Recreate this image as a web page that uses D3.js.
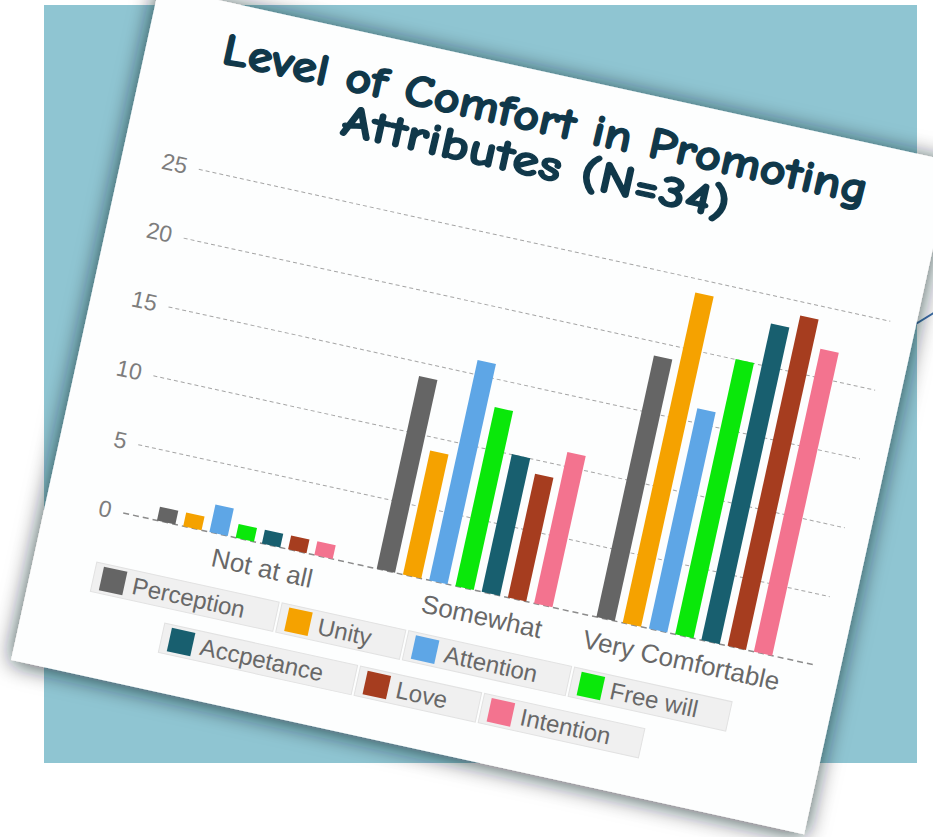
<!DOCTYPE html>
<html>
<head>
<meta charset="utf-8">
<script src="https://cdn.jsdelivr.net/npm/d3@7"></script>
<style>
  html, body { margin: 0; padding: 0; background: #ffffff; }
  svg { display: block; }
</style>
</head>
<body>
<svg id="chart" width="933" height="837"></svg>
<script>
// ---- data ----
const categories = ["Not at all", "Somewhat", "Very Comfortable"];
const seriesNames = ["Perception", "Unity", "Attention", "Free will", "Accpetance", "Love", "Intention"];
const perception = [1, 14, 19];
const unity      = [1, 9, 24];
const attention  = [2, 16, 16];
const freeWill   = [1, 13, 20];
const accpetance = [1, 10, 23];
const love       = [1, 9, 24];
const intention  = [1, 11, 22];
const seriesColors = ["#656565", "#f5a200", "#5ea6e6", "#0ae80a", "#185f6f", "#a63d1f", "#f3738f"];
const yTicks = [0, 5, 10, 15, 20, 25];
const legendRows = [["Perception", "Unity", "Attention", "Free will"], ["Accpetance", "Love", "Intention"]];
const titleLines = ["Level of Comfort in Promoting", "Attributes (N=34)"];

const valuesBySeries = [perception, unity, attention, freeWill, accpetance, love, intention];

const W = 933, H = 837;
const svg = d3.select("#chart");
const sansFont = "'Liberation Sans', Arial, Helvetica, sans-serif";
const titleFont = "'Comic Sans MS', 'Comic Neue', 'Chalkboard SE', 'DejaVu Sans', sans-serif";

// ---- backdrop: white page with a teal panel ----
svg.append("rect").attr("width", W).attr("height", H).attr("fill", "#ffffff");
svg.append("rect").attr("x", 44).attr("y", 5).attr("width", 873).attr("height", 758).attr("fill", "#8fc5d2");
// connector line running out from behind the card
svg.append("path").attr("d", "M880,346 L945,306")
  .attr("stroke", "#3c6fa8").attr("stroke-width", 2).attr("fill", "none");

const defs = svg.append("defs");
const shadow = defs.append("filter").attr("id", "cardShadow")
  .attr("x", "-15%").attr("y", "-15%").attr("width", "130%").attr("height", "130%");
shadow.append("feDropShadow").attr("dx", 0).attr("dy", 2).attr("stdDeviation", 11)
  .attr("flood-color", "#0b1e24").attr("flood-opacity", 0.75);

// ---- tilted card holding the chart ----
const cardW = 812, cardH = 689;
const card = svg.append("g").attr("transform", "translate(159,-13) rotate(12.4)");
card.append("rect").attr("width", cardW).attr("height", cardH)
  .attr("fill", "#fdfefe").attr("filter", "url(#cardShadow)");

// title
titleLines.forEach((line, i) => {
  card.append("text")
    .attr("x", cardW / 2).attr("y", 61 + i * 44)
    .attr("text-anchor", "middle")
    .attr("font-family", titleFont).attr("font-weight", "bold").attr("font-size", 45)
    .attr("textLength", i === 0 ? 660 : 396).attr("lengthAdjust", "spacingAndGlyphs")
    .attr("fill", "#10384a").attr("stroke", "#10384a").attr("stroke-width", 1.3)
    .attr("stroke-linejoin", "round")
    .text(line);
});

// scales
const plotLeft = 78, plotRight = 786;
const y = d3.scaleLinear().domain([0, 25]).range([521.4, 169]);
const x = d3.scaleBand().domain(categories).range([90, 765]);
const xs = d3.scaleBand().domain(seriesNames).range([-94, 94]).paddingInner(0.3).paddingOuter(0.15);
const color = d3.scaleOrdinal().domain(seriesNames).range(seriesColors);

// gridlines
const grid = card.append("g").attr("transform", `translate(${plotLeft},0)`)
  .call(d3.axisRight(y).tickValues(yTicks.filter(t => t > 0)).tickSize(plotRight - plotLeft).tickFormat(""));
grid.select(".domain").remove();
grid.selectAll(".tick line").attr("stroke", "#a6a6a6").attr("stroke-dasharray", "4,3");

// baseline
card.append("line")
  .attr("x1", plotLeft).attr("x2", plotRight).attr("y1", y(0)).attr("y2", y(0))
  .attr("stroke", "#8c8c8c").attr("stroke-width", 1.5).attr("stroke-dasharray", "6,4");

// y-axis labels
const yAxis = card.append("g").attr("transform", "translate(69,0)")
  .call(d3.axisLeft(y).tickValues(yTicks).tickSize(0).tickPadding(3));
yAxis.select(".domain").remove();
yAxis.selectAll("text")
  .attr("font-family", sansFont).attr("font-size", 23).attr("fill", "#7d7d7d");

// bars
const rows = [];
seriesNames.forEach((s, i) => categories.forEach((c, j) => rows.push({ s, c, v: valuesBySeries[i][j] })));
card.append("g").selectAll("rect").data(rows).join("rect")
  .attr("x", d => x(d.c) + x.bandwidth() / 2 + xs(d.s))
  .attr("y", d => y(d.v))
  .attr("width", xs.bandwidth())
  .attr("height", d => y(0) - y(d.v))
  .attr("fill", d => color(d.s));

// category labels (kept inside the plotted bars on the right)
const catG = card.append("g");
categories.forEach(c => {
  const t = catG.append("text")
    .attr("text-anchor", "middle").attr("y", y(0) + 33)
    .attr("font-family", sansFont).attr("font-size", 26).attr("fill", "#686868")
    .text(c);
  const w = t.node().getComputedTextLength();
  let cx = x(c) + x.bandwidth() / 2 + 23;
  const maxRight = x.range()[1] - 10;
  if (cx + w / 2 > maxRight) cx = maxRight - w / 2;
  t.attr("x", cx);
});

// legend: two centred rows of boxed entries
const legendCenter = 388, legendTop = 590, rowGap = 45, itemGap = 3;
legendRows.forEach((row, ri) => {
  const rowG = card.append("g");
  const items = row.map(name => {
    const ig = rowG.append("g");
    const box = ig.append("rect").attr("y", -15).attr("height", 30)
      .attr("fill", "#f0f0f0").attr("stroke", "#e2e2e2");
    ig.append("rect").attr("x", 8).attr("y", -12).attr("width", 24).attr("height", 24)
      .attr("fill", color(name));
    const t = ig.append("text").attr("x", 40).attr("dy", "0.35em")
      .attr("font-family", sansFont).attr("font-size", 24).attr("fill", "#686868")
      .text(name);
    const w = t.node().getComputedTextLength();
    return { ig, box, width: w + 72 };
  });
  const total = d3.sum(items, d => d.width) + itemGap * (items.length - 1);
  let u = legendCenter - total / 2;
  items.forEach(it => {
    it.ig.attr("transform", `translate(${u},${legendTop + ri * rowGap})`);
    it.box.attr("width", it.width);
    u += it.width + itemGap;
  });
});
</script>
</body>
</html>
